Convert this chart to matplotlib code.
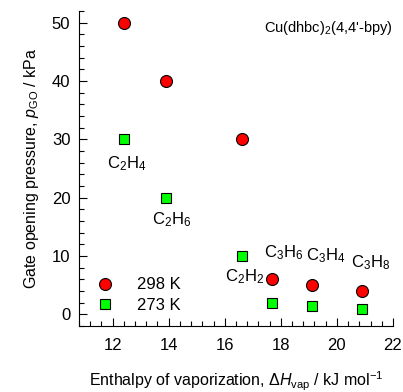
import numpy as np
import matplotlib
matplotlib.use("Agg")
import matplotlib.pyplot as plt
from matplotlib.ticker import MultipleLocator

plt.rcParams['font.family'] = ['Liberation Sans', 'DejaVu Sans']
plt.rcParams['mathtext.fontset'] = 'custom'
plt.rcParams['mathtext.rm'] = 'Liberation Sans'
plt.rcParams['mathtext.it'] = 'Liberation Sans:italic'
plt.rcParams['mathtext.default'] = 'regular'

# enthalpy of vaporization for each gas
dh_vap = [12.4, 13.9, 16.6, 17.7, 19.1, 20.9]
p_298 = [50, 40, 30, 6, 5, 4]
p_273 = [30, 20, 10, 2, 1.5, 1]
gas_labels = ["C$_2$H$_4$", "C$_2$H$_6$", "C$_2$H$_2$", "C$_3$H$_6$", "C$_3$H$_4$", "C$_3$H$_8$"]
label_x = [12.5, 14.1, 16.7, 18.1, 19.6, 21.2]
label_y = [25.8, 16.3, 6.5, 10.6, 10.0, 8.9]

fs = 12
fig = plt.figure(figsize=(4.03, 3.92), dpi=100)
ax = fig.add_axes([0.196, 0.168, 0.779, 0.804])

ax.plot(dh_vap, p_298, 'o', color='#ff0000', mec='black', mew=0.8, ms=8.6, label='298 K')
ax.plot(dh_vap, p_273, 's', color='#00ff00', mec='black', mew=0.8, ms=6.5, label='273 K')

for i in range(len(gas_labels)):
    ax.text(label_x[i], label_y[i], gas_labels[i], ha='center', va='center', fontsize=fs)

ax.text(22, 49, "Cu(dhbc)$_2$(4,4'-bpy)", ha='right', va='center', fontsize=10.5)

ax.set_xlim(10.8, 22)
ax.set_ylim(-2, 52)
ax.xaxis.set_major_locator(MultipleLocator(2))
ax.xaxis.set_minor_locator(MultipleLocator(0.4))
ax.yaxis.set_major_locator(MultipleLocator(10))
ax.yaxis.set_minor_locator(MultipleLocator(2))
ax.tick_params(which='both', direction='in', labelsize=fs, width=0.8)
ax.tick_params(which='major', length=6)
ax.tick_params(which='minor', length=3.5)
ax.tick_params(axis='x', which='major', pad=8.6)
ax.tick_params(axis='y', which='major', pad=6.2)
ax.spines['top'].set_visible(False)
ax.spines['right'].set_visible(False)

ax.set_xlabel("Enthalpy of vaporization, $\\Delta\\mathit{H}_{vap}$ / kJ mol$^{-1}$", fontsize=11.5, labelpad=12)
ax.set_ylabel("Gate opening pressure, $\\mathit{p}_{GO}$ / kPa", fontsize=11.5, labelpad=8)

ax.legend(loc='lower left', bbox_to_anchor=(0.01, 0.02), frameon=False, fontsize=fs,
          handletextpad=0.9, labelspacing=0.35, borderaxespad=0)

fig.savefig("out.png", dpi=100)
